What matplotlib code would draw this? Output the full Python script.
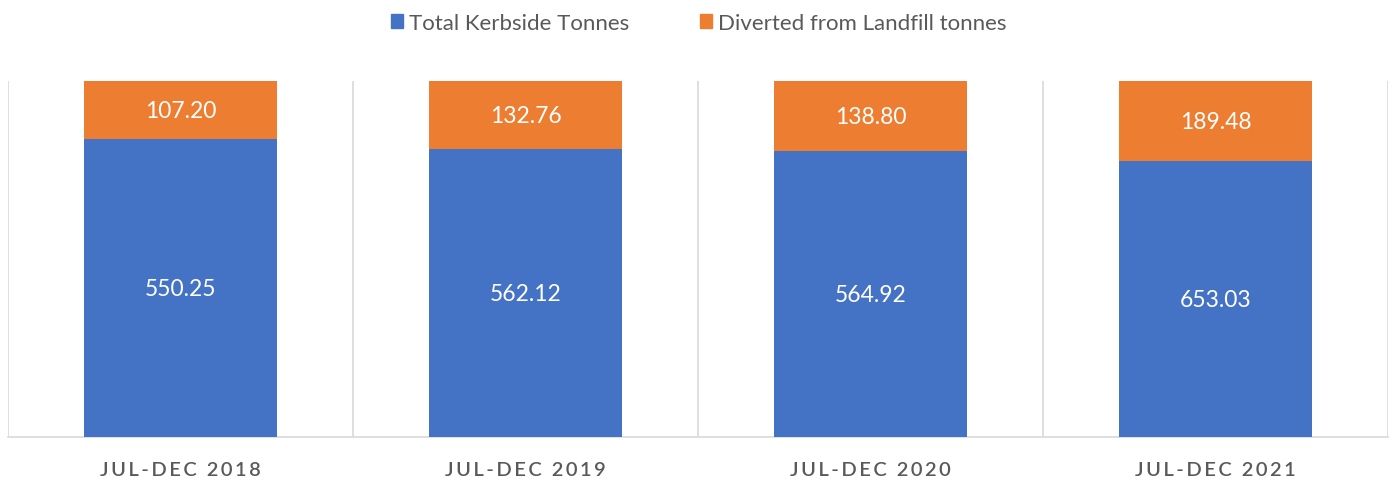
import matplotlib
matplotlib.use('Agg')
import matplotlib.pyplot as plt
from matplotlib.patches import Patch

plt.rcParams['font.family'] = ['Lato', 'DejaVu Sans']

periods = ['JUL-DEC 2018', 'JUL-DEC 2019', 'JUL-DEC 2020', 'JUL-DEC 2021']
kerbside = [550.25, 562.12, 564.92, 653.03]
diverted = [107.20, 132.76, 138.80, 189.48]

blue = '#4472C4'
orange = '#ED7D31'
grid = '#D9D9D9'

fig = plt.figure(figsize=(13.97, 4.89), dpi=100)
ax = fig.add_axes([8 / 1397, 1 - 438 / 489, 1380 / 1397, 356 / 489])

x = list(range(len(periods)))
totals = [k + d for k, d in zip(kerbside, diverted)]
kb_pct = [k / t * 100 for k, t in zip(kerbside, totals)]
dv_pct = [d / t * 100 for d, t in zip(diverted, totals)]

w = 0.56
ax.bar(x, kb_pct, width=w, color=blue, zorder=3)
ax.bar(x, dv_pct, width=w, bottom=kb_pct, color=orange, zorder=3)

for i in x:
    ax.text(i, kb_pct[i] / 2, f'{kerbside[i]:.2f}', ha='center', va='center',
            color='white', fontsize=16.5, zorder=4)
    ax.text(i, kb_pct[i] + dv_pct[i] / 2, f'{diverted[i]:.2f}', ha='center',
            va='center', color='white', fontsize=16.5, zorder=4)

# category separators
for b in [-0.5, 0.5, 1.5, 2.5, 3.5]:
    ax.axvline(b, color=grid, lw=1.2, zorder=1)

ax.set_xlim(-0.5, 3.5)
ax.set_ylim(0, 100)
ax.set_yticks([])
ax.set_xticks(x)
ax.set_xticklabels(['\u2009'.join(p) for p in periods], color='#595959',
                   fontsize=14.5, fontweight='semibold')
ax.tick_params(axis='x', length=0, pad=17)
for s in ['top', 'left', 'right']:
    ax.spines[s].set_visible(False)
ax.spines['bottom'].set_color(grid)
ax.spines['bottom'].set_linewidth(1.2)

handles = [Patch(color=blue, label='Total Kerbside Tonnes'),
           Patch(color=orange, label='Diverted from Landfill tonnes')]
fig.legend(handles=handles, loc='center', bbox_to_anchor=(0.5, 1 - 24 / 489),
           ncol=2, frameon=False, fontsize=16, handlelength=0.55,
           handleheight=0.55, handletextpad=0.25, columnspacing=3.2,
           labelcolor='#595959')

fig.savefig('out.png', dpi=100)
